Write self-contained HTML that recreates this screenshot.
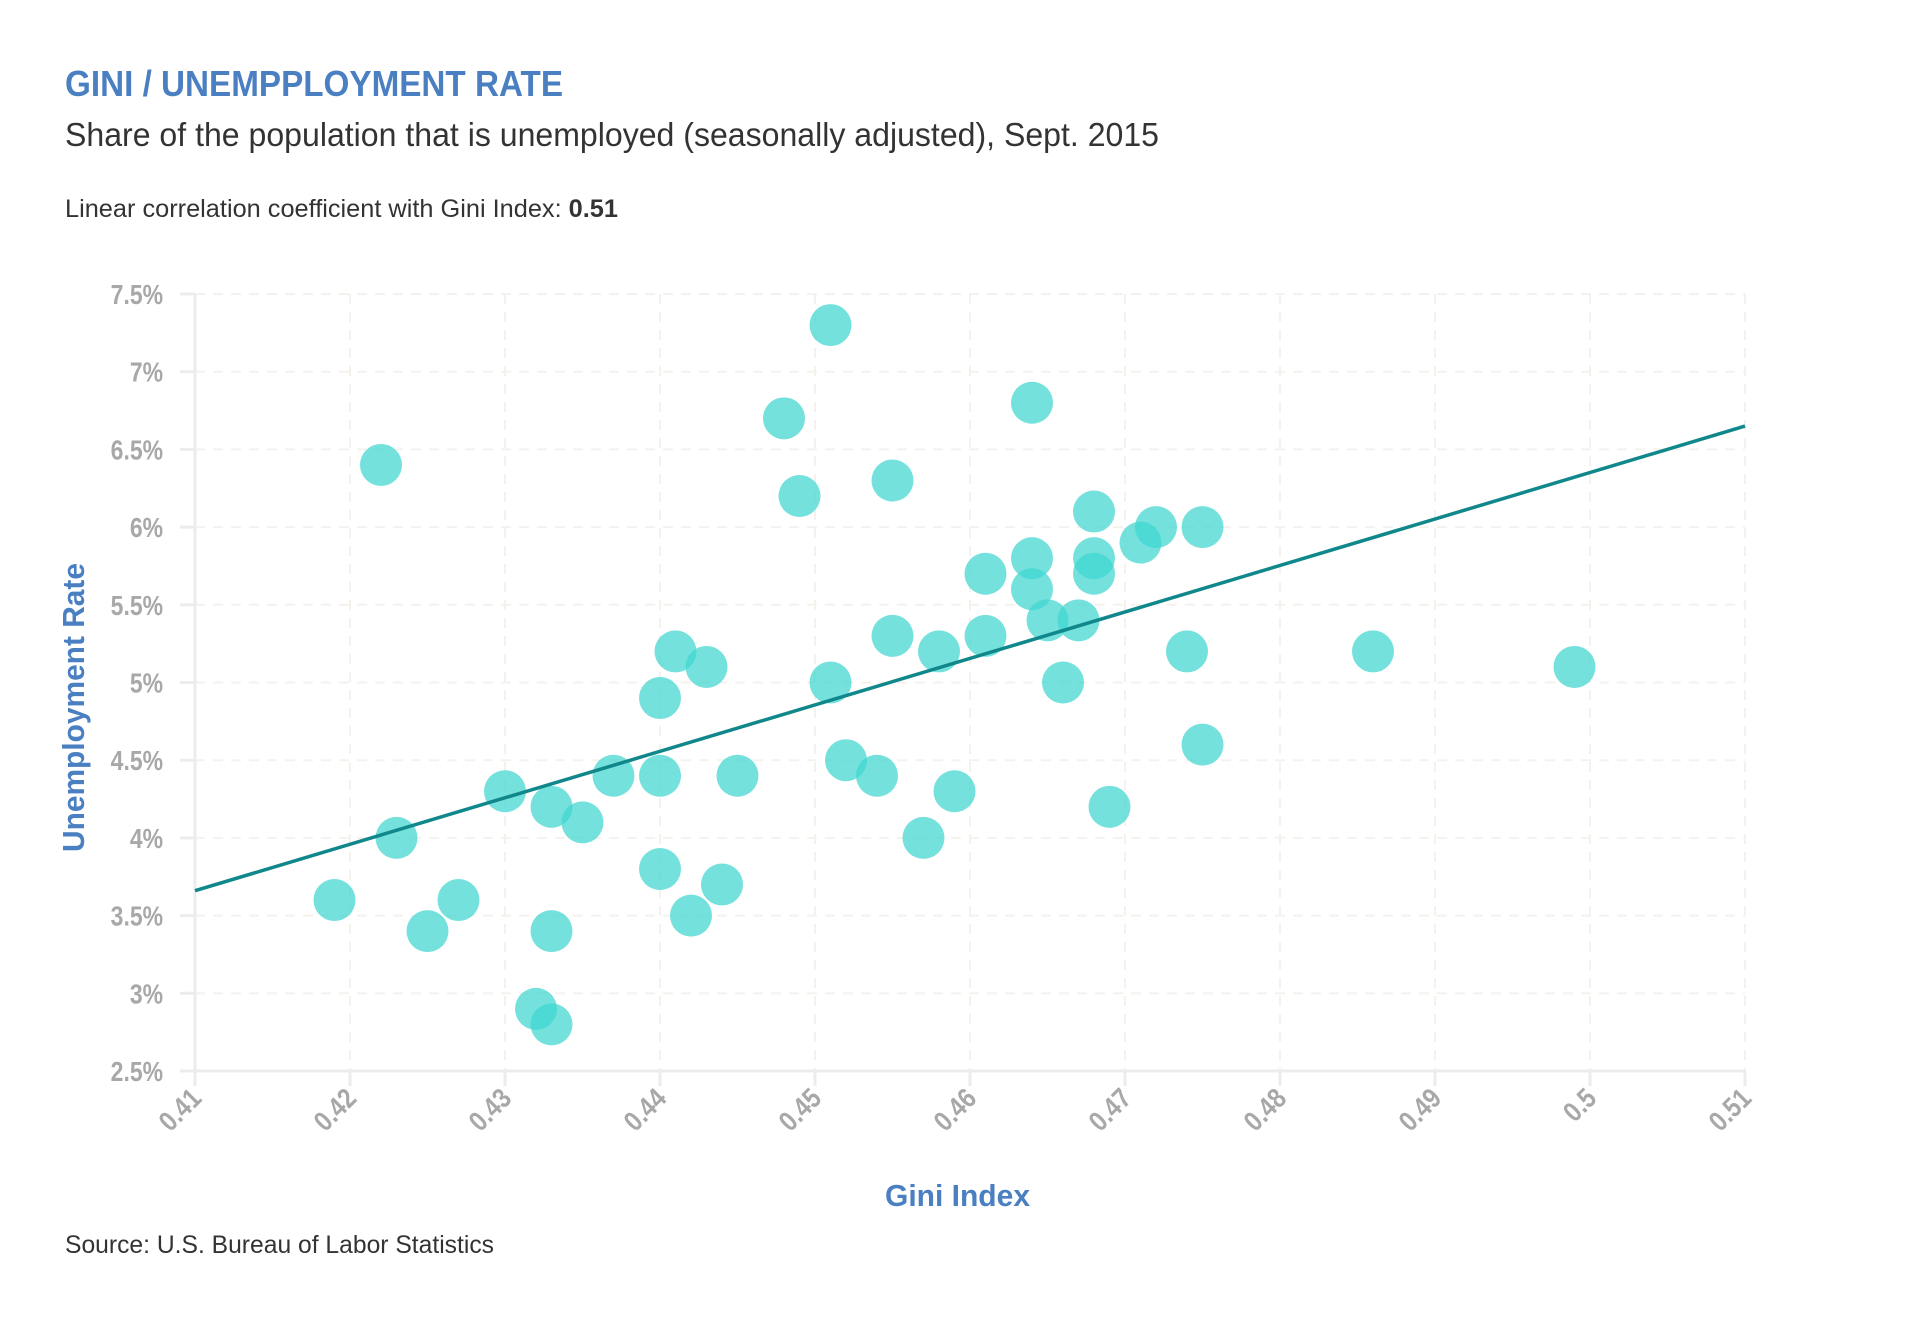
<!DOCTYPE html>
<html><head><meta charset="utf-8"><style>
body{margin:0;background:#fff;width:1921px;height:1321px;overflow:hidden}
svg{display:block;font-family:"Liberation Sans Narrow","Liberation Sans",sans-serif}
</style></head><body>
<svg id="chart" width="1921" height="1321">
<text x="65" y="96" font-size="36" font-weight="bold" fill="#4a7fc1" textLength="498" lengthAdjust="spacingAndGlyphs">GINI / UNEMPPLOYMENT RATE</text>
<text x="65" y="146" font-size="33" fill="#333" textLength="1094" lengthAdjust="spacingAndGlyphs">Share of the population that is unemployed (seasonally adjusted), Sept. 2015</text>
<text x="65" y="217" font-size="25" fill="#333" textLength="553" lengthAdjust="spacingAndGlyphs">Linear correlation coefficient with Gini Index: <tspan font-weight="bold">0.51</tspan></text>
<text x="65" y="1253" font-size="25" fill="#333" textLength="429" lengthAdjust="spacingAndGlyphs">Source: U.S. Bureau of Labor Statistics</text>
<text x="885" y="1206" font-size="31" font-weight="bold" fill="#4a7fc1" textLength="145" lengthAdjust="spacingAndGlyphs">Gini Index</text>
<text transform="translate(84,852) rotate(-90)" font-size="31" font-weight="bold" fill="#4a7fc1" textLength="289" lengthAdjust="spacingAndGlyphs">Unemployment Rate</text>
<g id="grid"></g><g id="axes"></g><g id="dots"></g><g id="fit"></g>
</svg>
<script>
const giniValues=[0.419,0.422,0.423,0.425,0.427,0.430,0.432,0.433,0.433,0.433,0.435,0.437,0.440,0.440,0.440,0.441,0.442,0.443,0.444,0.445,0.448,0.449,0.451,0.451,0.452,0.454,0.455,0.455,0.457,0.458,0.459,0.461,0.461,0.464,0.464,0.464,0.465,0.466,0.467,0.468,0.468,0.468,0.469,0.471,0.472,0.474,0.475,0.475,0.486,0.499];
const unemploymentValues=[3.6,6.4,4.0,3.4,3.6,4.3,2.9,2.8,3.4,4.2,4.1,4.4,4.9,4.4,3.8,5.2,3.5,5.1,3.7,4.4,6.7,6.2,7.3,5.0,4.5,4.4,6.3,5.3,4.0,5.2,4.3,5.7,5.3,6.8,5.8,5.6,5.4,5.0,5.4,6.1,5.8,5.7,4.2,5.9,6.0,5.2,6.0,4.6,5.2,5.1];
const xTicks=[0.41,0.42,0.43,0.44,0.45,0.46,0.47,0.48,0.49,0.5,0.51];
const xTickLabels=["0.41","0.42","0.43","0.44","0.45","0.46","0.47","0.48","0.49","0.5","0.51"];
const yTicks=[2.5,3,3.5,4,4.5,5,5.5,6,6.5,7,7.5];
const yTickLabels=["2.5%","3%","3.5%","4%","4.5%","5%","5.5%","6%","6.5%","7%","7.5%"];
const fitLine=[[0.41,3.66],[0.51,6.65]];
const X=v=>195+(v-0.41)/0.1*1550;
const Y=v=>1071-(v-2.5)/5*777;
const NS="http://www.w3.org/2000/svg";
function mk(p,t,a){const e=document.createElementNS(NS,t);for(const k in a)e.setAttribute(k,a[k]);p.appendChild(e);return e;}
const grid=document.getElementById('grid'),axes=document.getElementById('axes'),dots=document.getElementById('dots'),fit=document.getElementById('fit');
yTicks.forEach((t,i)=>{
 if(i>0){const g=mk(grid,'line',{x1:195,x2:1745,y1:Y(t),y2:Y(t),stroke:'#f5f2ee','stroke-width':2,'stroke-dasharray':'10,8'});
 
 }
 const tk=mk(axes,'line',{x1:180,x2:195,y1:Y(t),y2:Y(t),stroke:'#ececec','stroke-width':3});
 
 
 const l=mk(axes,'text',{transform:`translate(163,${Y(t)+10}) scale(0.82,1)`,'font-size':28,'font-weight':'bold',fill:'#a8a8a8','text-anchor':'end'});l.textContent=yTickLabels[i];
 
 
});
xTicks.forEach((t,i)=>{
 if(i>0){const g=mk(grid,'line',{x1:X(t),x2:X(t),y1:294,y2:1071,stroke:'#f5f2ee','stroke-width':2,'stroke-dasharray':'10,8'});
 
 }
 const tk=mk(axes,'line',{x1:X(t),x2:X(t),y1:1071,y2:1086,stroke:'#ececec','stroke-width':3});
 
 
 const l=mk(axes,'text',{transform:`translate(${X(t)+8},${1100}) rotate(-45) scale(0.85,1)`,'font-size':28,'font-weight':'bold',fill:'#a8a8a8','text-anchor':'end'});l.textContent=xTickLabels[i];
 
 
});
const ya=mk(axes,'line',{x1:195,x2:195,y1:294,y2:1072,stroke:'#ececec','stroke-width':3});


const xa=mk(axes,'line',{x1:180,x2:1745,y1:1071,y2:1071,stroke:'#ececec','stroke-width':3});


giniValues.forEach((g,i)=>{
 const c=mk(dots,'circle',{cx:X(g),cy:Y(unemploymentValues[i]),r:21,fill:'#3ed6d0','fill-opacity':0.72});
 
 
});
const fl=mk(fit,'line',{x1:X(fitLine[0][0]),y1:Y(fitLine[0][1]),x2:X(fitLine[1][0]),y2:Y(fitLine[1][1]),stroke:'#10878b','stroke-width':3.5});


</script>
</body></html>
